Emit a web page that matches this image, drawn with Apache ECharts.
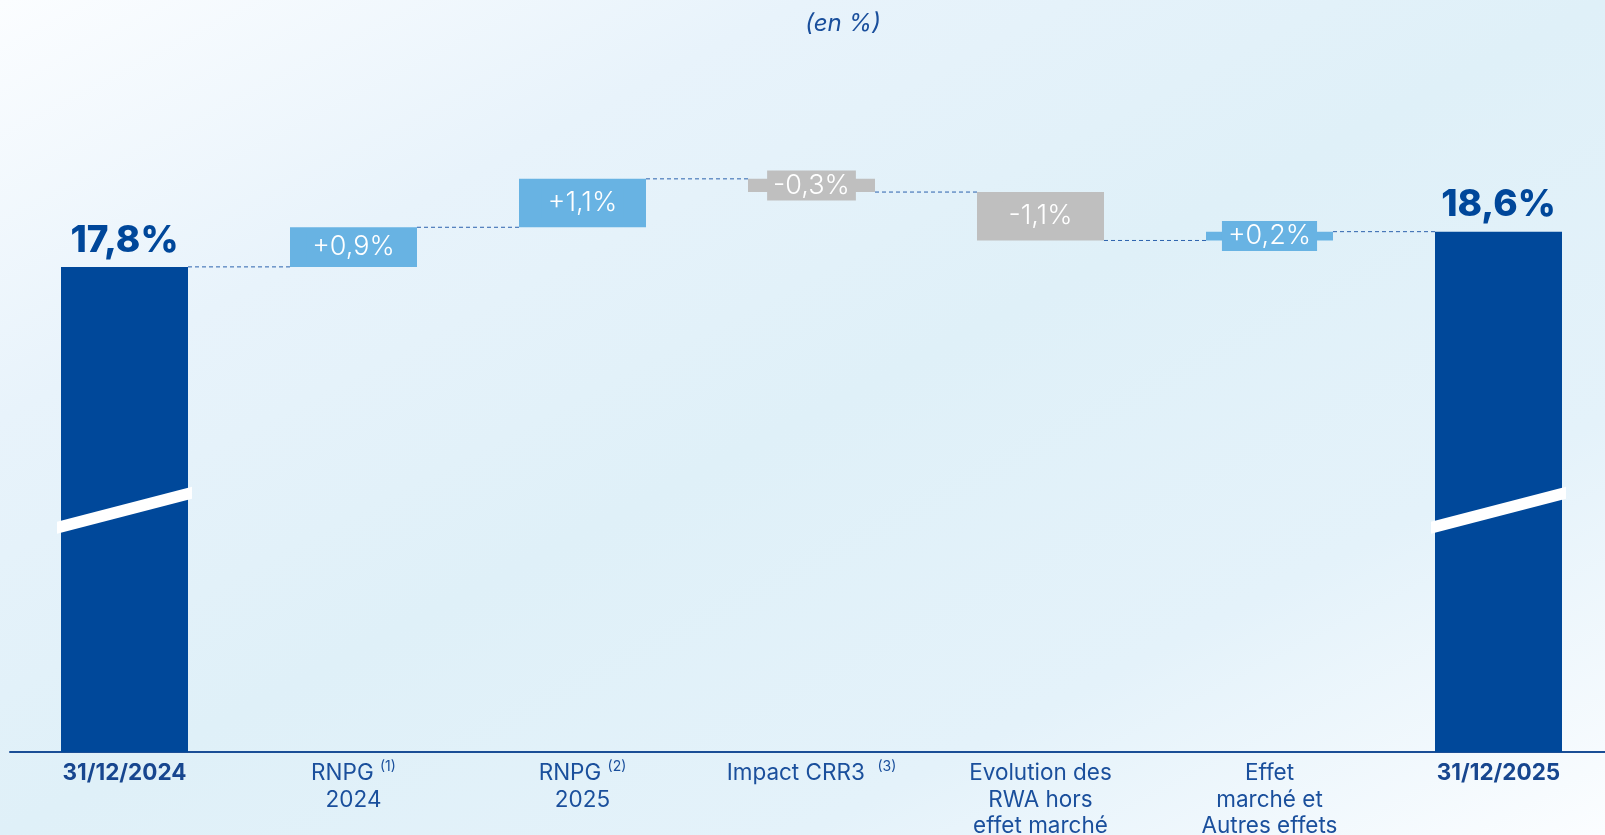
<!DOCTYPE html>
<html>
<head>
<meta charset="utf-8">
<script src="https://cdn.jsdelivr.net/npm/echarts@6/dist/echarts.min.js"></script>
<style>
  html, body { margin: 0; padding: 0; }
  body {
    width: 1605px; height: 835px; overflow: hidden;
    background: linear-gradient(to bottom right, #fbfdff 0%, #e8f3fb 25%, #dff0f8 50%, #e4f2fa 75%, #fbfdff 100%);
  }
  #chart { width: 1605px; height: 835px; }
</style>
</head>
<body>
<div id="chart"></div>
<script>
// ---- data ----
const categories = [
  '{b|31/12/2024}',
  'RNPG {sup|(1)}\n2024',
  'RNPG {sup|(2)}\n2025',
  'Impact CRR3  {sup|(3)}',
  'Evolution des\nRWA hors\neffet marché',
  'Effet\nmarché et\nAutres effets',
  '{b|31/12/2025}'
];
const values = [17.8, 0.9, 1.1, -0.3, -1.1, 0.2, 18.6];
const kinds = ['total', 'delta', 'delta', 'delta', 'delta', 'delta', 'total'];
const valueLabels = ['17,8%', '+0,9%', '+1,1%', '-0,3%', '-1,1%', '+0,2%', '18,6%'];
const axisMin = 6.78;
const axisMax = 22;
const breakValue = 12.27;

// ---- derived waterfall ----
const colors = { total: '#00489a', up: '#68b3e3', down: '#bfbfbf' };
const baseData = [];
const barData = [];
const levels = [];
let level = 0;
values.forEach((v, i) => {
  if (kinds[i] === 'total') {
    level = v;
    baseData.push(axisMin);
    barData.push({ value: v - axisMin, itemStyle: { color: colors.total } });
  } else {
    const next = level + v;
    const col = v >= 0 ? colors.up : colors.down;
    baseData.push(Math.min(level, next));
    barData.push({ value: Math.abs(v), itemStyle: { color: col },
      label: { backgroundColor: col } });
    level = next;
  }
  levels.push(level);
});
const connectorData = levels.slice(0, -1).map((l, i) => [i, l]);
const stripeData = kinds.map((k, i) => k === 'total' ? [i, breakValue] : null).filter(Boolean);

const FONT = 'Inter, "Open Sans", sans-serif';
const BAR_W = 127;
const chart = echarts.init(document.getElementById('chart'), null, { renderer: 'canvas' });
chart.setOption({
  backgroundColor: 'transparent',
  animation: false,
  graphic: [{
    type: 'text', x: 843, y: 24,
    style: { text: '(en %)', align: 'center', verticalAlign: 'middle',
      font: 'italic 24px Inter, "Open Sans", sans-serif', fill: '#1a4f9c' }
  }],
  grid: { left: 10, width: 1603, top: 82, bottom: 83, outerBoundsMode: 'none', containLabel: false },
  xAxis: {
    type: 'category',
    data: categories,
    axisLine: { lineStyle: { color: '#1a4e96', width: 2 } },
    axisTick: { show: false },
    axisLabel: {
      interval: 0, margin: 8,
      color: '#1a4f9c', fontFamily: FONT,
      fontSize: 22.5, lineHeight: 26.5, align: 'center', verticalAlign: 'top',
      formatter: v => v,
      rich: {
        b: { fontWeight: 'bold', fontSize: 22.5, lineHeight: 26.5, color: '#17468f', fontFamily: FONT },
        sup: { fontSize: 14, lineHeight: 26.5, verticalAlign: 'top', color: '#1a4f9c', fontFamily: FONT }
      }
    },
    splitLine: { show: false }
  },
  yAxis: {
    type: 'value', min: axisMin, max: axisMax, show: false, splitLine: { show: false }
  },
  series: [
    {
      type: 'bar', stack: 'w', barWidth: BAR_W, silent: true,
      itemStyle: { color: 'transparent' },
      data: baseData
    },
    {
      type: 'bar', stack: 'w', barWidth: BAR_W,
      data: barData.map((d, i) => {
        if (kinds[i] === 'total') {
          d.label = { show: true, position: 'top', distance: 8,
            formatter: valueLabels[i], color: '#00479a', fontSize: 37, fontWeight: 800,
            fontFamily: FONT };
        } else {
          d.label = Object.assign(d.label, { show: true, position: 'inside',
            formatter: valueLabels[i], color: '#ffffff', fontSize: 27, fontWeight: 300,
            fontFamily: FONT, padding: [2, 6, 1, 6] });
        }
        return d;
      })
    },
    {
      type: 'custom', z: 5, silent: true,
      data: connectorData,
      renderItem: (params, api) => {
        const i = api.value(0);
        const p1 = api.coord([i, api.value(1)]);
        const p2 = api.coord([i + 1, api.value(1)]);
        return {
          type: 'line',
          shape: { x1: p1[0] + BAR_W / 2, y1: p1[1], x2: p2[0] - BAR_W / 2, y2: p2[1] },
          style: { stroke: '#2c62ad', lineWidth: 1, lineDash: [4, 3] }
        };
      }
    },
    {
      type: 'custom', z: 6, silent: true,
      data: stripeData,
      renderItem: (params, api) => {
        const c = api.coord([api.value(0), api.value(1)]);
        const hw = BAR_W / 2 + 4;
        const dy = 17.5, th = 6;
        return {
          type: 'polygon',
          shape: { points: [
            [c[0] - hw, c[1] + dy - th], [c[0] + hw, c[1] - dy - th],
            [c[0] + hw, c[1] - dy + th], [c[0] - hw, c[1] + dy + th]
          ] },
          style: { fill: '#ffffff' }
        };
      }
    }
  ]
});
</script>
</body>
</html>
